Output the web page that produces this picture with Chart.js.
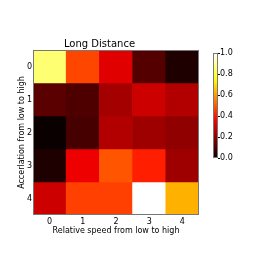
<!DOCTYPE html>
<html>
<head>
<meta charset="utf-8">
<script src="https://cdn.jsdelivr.net/npm/chart.js@4"></script>
<style>
  body { margin: 0; background: #fff; }
  #wrap { position: relative; width: 266px; height: 266px; }
  #heat { position: absolute; left: 0; top: 0; }
  #cbar { position: absolute; left: 200px; top: 40px; }
</style>
</head>
<body>
<div id="wrap">
  <canvas id="heat" width="266" height="266"></canvas>
  <canvas id="cbar" width="66" height="130"></canvas>
</div>
<script>
// data
var columns = ['0', '1', '2', '3', '4'];
var rows = [0, 1, 2, 3, 4];
var row0 = [0.86, 0.47, 0.32, 0.11, 0.03];
var row1 = [0.12, 0.10, 0.23, 0.29, 0.25];
var row2 = [0.00, 0.09, 0.25, 0.22, 0.20];
var row3 = [0.03, 0.34, 0.49, 0.41, 0.22];
var row4 = [0.29, 0.46, 0.46, 1.00, 0.63];
var values = [row0, row1, row2, row3, row4];
var cbTicks = [0, 0.2, 0.4, 0.6, 0.8, 1.0];

// matplotlib "hot"
function hot(v){
    function c(x){ return Math.max(0, Math.min(1, x)); }
    var r = c(0.0416 + v * 0.9584 / 0.365079);
    var g = c((v - 0.365079) / (0.746032 - 0.365079));
    var b = c((v - 0.746032) / (1 - 0.746032));
    return 'rgb(' + Math.round(r*255) + ',' + Math.round(g*255) + ',' + Math.round(b*255) + ')';
}

Chart.defaults.font.family = "'DejaVu Sans', sans-serif";
Chart.defaults.color = '#000';

var frame = {
    id: 'frame',
    afterDatasetsDraw: function(chart){
        var a = chart.chartArea, ctx = chart.ctx;
        ctx.save();
        ctx.strokeStyle = '#777';
        ctx.lineWidth = 1;
        ctx.strokeRect(Math.round(a.left) + 0.5, Math.round(a.top) + 0.5,
            Math.round(a.right - a.left) - 1, Math.round(a.bottom - a.top) - 1);
        ctx.restore();
    }
};

var heat = new Chart(document.getElementById('heat'), {
    type: 'bar',
    data: {
        labels: columns,
        datasets: rows.map(function(r, i){
            return {
                data: values[i].map(function(){ return [r - 0.5, r + 0.5]; }),
                backgroundColor: values[i].map(hot),
                borderWidth: 0,
                barPercentage: 1,
                categoryPercentage: 1,
                grouped: false
            };
        })
    },
    options: {
        responsive: false,
        animation: false,
        layout: { padding: { left: 0, top: 0, right: 67, bottom: 27 } },
        plugins: {
            legend: { display: false },
            tooltip: { enabled: false },
            title: {
                display: true,
                text: 'Long Distance',
                font: { size: 10, weight: 'normal' },
                padding: { top: 38, bottom: 0 }
            }
        },
        scales: {
            x: {
                type: 'category',
                grid: { display: false, tickLength: 2 },
                border: { display: false },
                ticks: { font: { size: 8 }, padding: 0, maxRotation: 0 },
                title: { display: true, text: 'Relative speed from low to high', font: { size: 8 }, padding: { top: 0, bottom: 3.5 } },
                afterFit: function(s){ s.height = 24; }
            },
            y: {
                type: 'linear',
                reverse: true,
                min: -0.5,
                max: 4.5,
                afterBuildTicks: function(s){ s.ticks = rows.map(function(v){ return { value: v }; }); },
                grid: { display: false, tickLength: 0 },
                border: { display: false },
                ticks: { font: { size: 8 }, padding: 1 },
                title: { display: true, text: 'Accerlation from low to high', font: { size: 8 }, padding: { top: 17, bottom: 0 } },
                afterFit: function(s){ s.width = 33; }
            }
        }
    },
    plugins: [frame]
});

function cbGradient(ctx){
    var area = ctx.chart.chartArea;
    if (!area) return null;
    var g = ctx.chart.ctx.createLinearGradient(0, area.bottom, 0, area.top);
    for (var i = 0; i <= 20; i++) g.addColorStop(i / 20, hot(i / 20));
    return g;
}

var cbar = new Chart(document.getElementById('cbar'), {
    type: 'bar',
    data: {
        labels: [''],
        datasets: [{
            data: [[cbTicks[0], cbTicks[cbTicks.length - 1]]],
            backgroundColor: cbGradient,
            borderWidth: 0,
            barPercentage: 1,
            categoryPercentage: 1
        }]
    },
    options: {
        responsive: false,
        animation: false,
        layout: { padding: { left: 13, top: 13, right: 0, bottom: 12 } },
        plugins: { legend: { display: false }, tooltip: { enabled: false } },
        scales: {
            x: { display: false },
            y: {
                position: 'right',
                min: 0,
                max: 1,
                afterBuildTicks: function(s){ s.ticks = cbTicks.map(function(v){ return { value: v }; }); },
                grid: { display: true, drawOnChartArea: false, drawTicks: true, tickLength: 2, color: '#000' },
                border: { display: false },
                ticks: { font: { size: 8 }, padding: 0, callback: function(v){ return v.toFixed(1); } },
                afterFit: function(s){ s.width = 48; }
            }
        }
    },
    plugins: [frame]
});
</script>
</body>
</html>
